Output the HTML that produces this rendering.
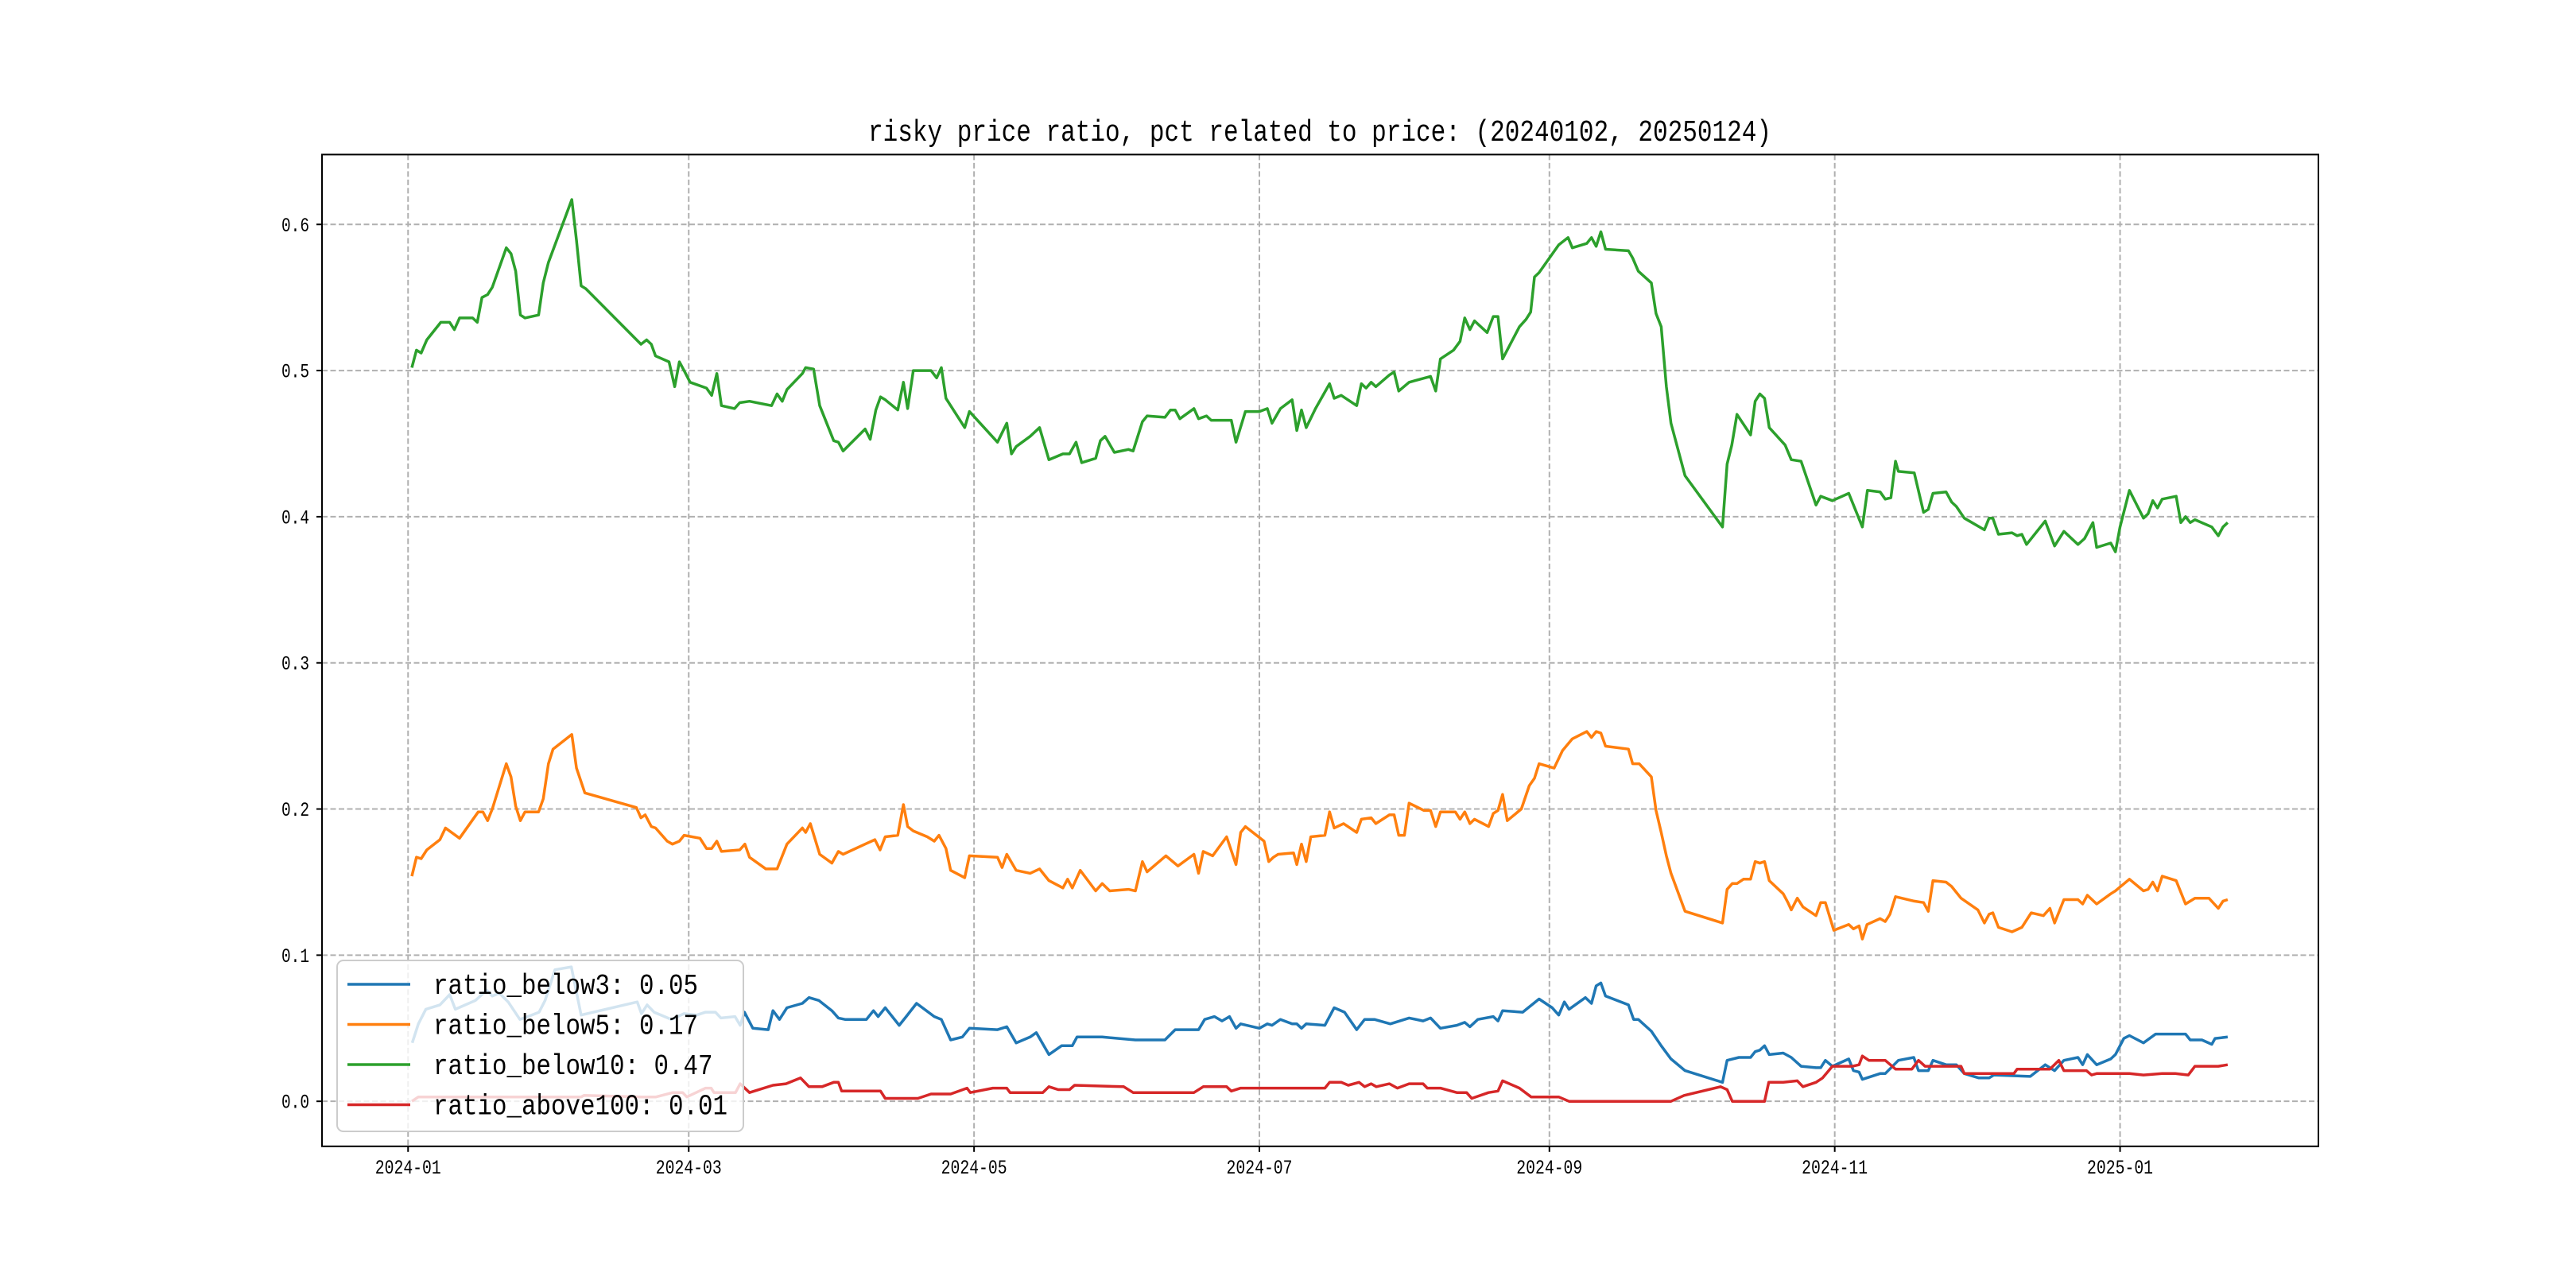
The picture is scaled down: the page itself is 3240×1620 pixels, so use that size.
<!DOCTYPE html>
<html><head><meta charset="utf-8"><style>
html,body{margin:0;padding:0;background:#fff;}
svg{display:block;}
text{font-family:"Liberation Mono","Noto Sans CJK SC",monospace;fill:#000;}
</style></head><body>
<svg id="chart" width="3240" height="1620" viewBox="0 0 3240 1620" xmlns="http://www.w3.org/2000/svg">
<rect x="0" y="0" width="3240" height="1620" fill="#fff"/>
<text x="1660" y="177" font-size="38" text-anchor="middle" textLength="1136" lengthAdjust="spacingAndGlyphs">risky price ratio, pct related to price: (20240102, 20250124)</text>
<g id="grid"></g>
<g id="series"></g>
<rect x="405" y="194.4" width="2511" height="1247.4" fill="none" stroke="#000" stroke-width="2"/>
<g id="ticks"></g>
<g id="legend"></g>
</svg>
<script>
// day offsets from 2024-01-01
const xTickDays = [0, 60, 121, 182, 244, 305, 366];
const xTickLabels = ["2024-01","2024-03","2024-05","2024-07","2024-09","2024-11","2025-01"];
const yTickValues = [0.0, 0.1, 0.2, 0.3, 0.4, 0.5, 0.6];
const yTickLabels = ["0.0","0.1","0.2","0.3","0.4","0.5","0.6"];
const seriesNames = ["ratio_below3","ratio_below5","ratio_below10","ratio_above100"];
const legendValues = ["0.05","0.17","0.47","0.01"];

const greenDays = [0.8,1.8,2.8,4,7,8.9,9.9,11,13.8,14.8,15.8,17,18,21,22,23,24,25,27.9,28.9,30,35,36,37,38,49.8,51,52,52.9,55.8,57,58,59,60.3,63.8,64.9,66,67,69.8,70.9,73,77.7,78.9,80,81,84.3,85,86.7,88,91,92,93,97.7,98.8,100,101,102,104.7,105.9,106.8,108,111.8,113,114,115,119,120,126,128,129,130,133,135,137,140,141.4,142.8,144,147,148,149,151,154,155,157,158,161.8,163,164,165,168,169,170.7,171.7,176,177,179,182,183.7,184.7,186.5,189,190,191,192,194,197,198,199.5,202.8,203.8,204.8,205.9,206.9,209.8,210.8,211.8,214,218.6,219.7,220.7,223.5,224.9,225.9,227,228,230.7,232,233,234,237.6,239,240,240.8,241.8,246,248,248.9,252,253,254,255,256,260.9,261.8,263,265.8,266.8,267.9,269,270,273,281,282,283,284.1,287,288,289,290,291,294.4,295.7,297.8,301,302,304.5,308,310.9,312,314.7,315.8,317,318,318.6,322,324,325,326,328.8,330,331,332.7,337,338,338.8,340,342.9,344,345,346,350,352,354,357,358.4,360.2,361,364,365,366,368,371,372,373,374,375,378,379,380,381,382,385.6,387,388,389];
const greenVals = [.502,.514,.512,.521,.533,.533,.528,.536,.536,.533,.550,.552,.557,.584,.580,.568,.538,.536,.538,.560,.574,.617,.589,.558,.556,.518,.521,.518,.510,.506,.489,.506,.500,.492,.488,.483,.498,.476,.474,.478,.479,.476,.484,.479,.487,.498,.502,.501,.476,.452,.451,.445,.460,.453,.473,.482,.480,.473,.492,.474,.500,.500,.495,.502,.481,.461,.472,.451,.464,.443,.448,.455,.461,.439,.443,.443,.451,.437,.440,.452,.455,.444,.446,.445,.465,.469,.468,.473,.473,.467,.474,.467,.469,.466,.466,.451,.472,.472,.474,.464,.474,.480,.459,.473,.461,.474,.491,.481,.483,.476,.491,.488,.492,.489,.497,.499,.486,.492,.496,.486,.508,.514,.520,.536,.528,.534,.526,.537,.537,.508,.530,.535,.540,.564,.567,.586,.591,.584,.587,.591,.585,.595,.583,.582,.577,.568,.560,.539,.530,.489,.464,.428,.393,.436,.449,.470,.456,.479,.484,.481,.461,.449,.439,.438,.408,.414,.411,.416,.393,.418,.417,.412,.413,.438,.431,.430,.403,.405,.416,.417,.410,.407,.399,.391,.399,.399,.388,.389,.387,.388,.381,.397,.380,.390,.381,.385,.396,.379,.382,.376,.393,.418,.399,.402,.411,.406,.412,.414,.396,.400,.396,.398,.393,.387,.393,.396];

const orangeDays = [0.8,1.8,2.8,4,6.8,8,11,15,16,17,18,21,22,23,24,25,27.9,28.9,30,31,35,36,37.8,48.8,49.8,50.7,52,52.9,55.4,56.5,58,59,62.4,63.8,64.9,66,67,70.9,72,73,76.5,78.9,81,84.3,85,86,88,90.6,92,93,97.7,99.8,100.9,102,104.7,105.9,106.8,108,111,112.5,113.5,115,116,119,120,126,127,128,130,133,135,137,140,141,142,143.7,147,148.4,150,154,155.5,157,158,162,164.6,168,169,170,172,175,177,178,179,183,184,185,186,189.3,190,191,192,193,196,197,198,200,202.8,203.8,205.9,206.9,209.8,210.8,211.8,213,214,217.2,218.6,219.7,220.7,223.9,224.9,225.9,227,228,231,232,233,234,235,238,239.7,240.8,241.8,245,246.8,248.9,252,253,254,255,256,260.9,261.8,263.2,265.8,266.8,267.9,269,270,273,281,282,283.1,284.1,285.5,287,288,289,290,291,294,295,295.7,297,298.2,301,302,303,304.8,308,309,310.2,310.9,311.9,314.7,315.8,316.8,318,322,324,325,326,328.8,330,332,335.6,337,338,338.8,340,342.9,345,347,349.6,351,352,354,357,358,359,361,364,365,368,371,372,373,374,375,378,380,382,385,387,388,389];
const orangeVals = [.154,.167,.166,.172,.179,.187,.180,.198,.198,.192,.200,.231,.222,.202,.192,.198,.198,.207,.231,.241,.251,.228,.211,.201,.194,.196,.188,.187,.178,.176,.178,.182,.180,.173,.173,.178,.171,.172,.176,.167,.159,.159,.176,.187,.184,.190,.169,.163,.171,.169,.176,.179,.172,.181,.182,.203,.188,.185,.181,.178,.182,.173,.158,.153,.168,.167,.160,.169,.158,.156,.159,.151,.146,.152,.146,.158,.144,.149,.144,.145,.144,.164,.157,.168,.161,.169,.156,.171,.168,.181,.162,.184,.188,.178,.164,.167,.169,.170,.162,.176,.164,.181,.182,.198,.187,.190,.184,.193,.194,.190,.196,.196,.182,.182,.204,.199,.199,.188,.198,.198,.193,.198,.190,.193,.188,.197,.199,.210,.192,.200,.216,.221,.231,.228,.240,.248,.253,.249,.253,.252,.243,.241,.231,.231,.222,.199,.184,.168,.156,.130,.122,.145,.149,.149,.152,.152,.164,.163,.164,.151,.142,.136,.131,.139,.133,.127,.136,.136,.117,.121,.118,.120,.111,.121,.125,.123,.128,.140,.137,.136,.130,.151,.150,.147,.139,.131,.122,.128,.129,.119,.116,.119,.129,.127,.132,.122,.138,.138,.135,.141,.135,.142,.144,.152,.144,.145,.150,.144,.154,.151,.135,.139,.139,.132,.137,.138];

const blueDays = [0.9,2.2,3.8,6.8,8.9,10.1,14.4,16.8,18,19.5,21.4,23.9,25.6,28,29.3,31.4,34.9,37,49,49.9,51.1,52.6,56.3,59,61.7,63.6,65.7,66.9,69.9,71,71.9,73.7,77,78,79.4,81,84.3,85.7,87.8,90.6,92,93.4,98,99.5,100.5,102,105,106.5,108.7,112.5,114,116,118.5,120,126,128,130,133,134.3,137,139.7,142,143,148.4,155.5,161.8,164,169,170.3,172.4,174,175.6,177,178,182,183.7,184.7,186.5,189,190,191,192,196,198,200.2,202.8,204.5,206.6,210,214,217,218.6,220.7,224.2,225.9,227,228.7,232,233,234,238.3,241.8,244.6,246,247.2,248.2,251.7,253,254,255,256,260.9,262,263,265.8,267.9,270,273,281,282,284.5,287,288,289,290,291,294,295.7,297.8,301,302,303,304.5,308,309,310.2,310.9,314.7,315.8,318.6,321.9,322.9,325,326,328.8,331,332.7,335.8,338,339,346.8,350,352,354,357,358,359,361,364,365,366.8,368,371,373.6,378,380,381,383.5,385.6,386.3,389];
const blueVals = [.040,.053,.063,.066,.073,.063,.069,.076,.072,.074,.068,.056,.058,.061,.069,.090,.092,.059,.068,.060,.066,.061,.056,.060,.059,.061,.061,.057,.058,.052,.061,.050,.049,.062,.056,.064,.067,.071,.069,.062,.057,.056,.056,.062,.058,.064,.052,.058,.067,.058,.056,.042,.044,.050,.049,.051,.040,.044,.047,.032,.038,.038,.044,.044,.042,.042,.049,.049,.056,.058,.055,.058,.050,.053,.050,.053,.052,.056,.053,.053,.050,.053,.052,.064,.061,.049,.056,.056,.053,.057,.055,.057,.050,.052,.054,.051,.056,.058,.055,.062,.061,.070,.064,.059,.068,.063,.071,.067,.079,.081,.072,.066,.056,.056,.048,.038,.029,.021,.013,.028,.030,.030,.034,.035,.038,.032,.033,.030,.024,.023,.023,.028,.024,.029,.021,.020,.015,.019,.019,.028,.030,.021,.021,.028,.025,.025,.019,.016,.016,.018,.017,.025,.021,.028,.030,.025,.032,.025,.029,.032,.043,.045,.040,.046,.046,.046,.042,.042,.039,.043,.044];

const redDays = [0.8,2.2,37,37.6,49.9,53,56.6,58.7,59.6,63.6,64.8,65.4,70,71,73,78,80.8,83.9,85.7,88.5,91,92,92.7,101,102,109,111.8,116,119.5,120.2,125,128,128.7,135.7,137,139,141.4,142.5,153,155,168,170,175,176,178,196,197,199.5,201,203.3,204.5,205.9,207,209.8,211.5,214,217,217.9,220.7,224.2,226.3,227.4,231,233,234,237.6,240.1,246,248.2,270,272.8,280.6,282,283.1,290,290.9,294,297,298.2,301,302.4,304.5,308.8,310.2,310.9,312.3,315.8,318,321.5,322.9,324.3,332,332.7,343.3,344,351,352.9,354,358.8,359.9,361,368,371,375,377.8,380.6,382,387,389];
const redVals = [.000,.003,.003,.004,.003,.003,.006,.006,.003,.009,.009,.006,.006,.012,.006,.011,.012,.016,.010,.010,.013,.013,.007,.007,.002,.002,.005,.005,.009,.006,.009,.009,.006,.006,.010,.008,.008,.011,.010,.006,.006,.010,.010,.007,.009,.009,.013,.013,.011,.013,.010,.012,.010,.012,.009,.012,.012,.009,.009,.006,.006,.002,.006,.007,.014,.009,.003,.003,.000,.000,.004,.010,.008,.000,.000,.013,.013,.014,.010,.013,.016,.024,.024,.025,.031,.028,.028,.022,.022,.028,.024,.024,.019,.019,.022,.022,.028,.021,.021,.018,.019,.019,.018,.019,.019,.018,.024,.024,.025];

const NS = "http://www.w3.org/2000/svg";
const AX = {left:405, top:194.4, width:2511, height:1247.4};
const dayMin = 1 - 19.4, dayMax = 389 + 19.4;
const yMin = -0.0308, yMax = 0.6478;
function xScale(d){ return AX.left + (d - dayMin) / (dayMax - dayMin) * AX.width; }
function yScale(v){ return AX.top + AX.height - (v - yMin) / (yMax - yMin) * AX.height; }
function mk(tag, attrs, parent){ const e = document.createElementNS(NS, tag); for (const k in attrs) e.setAttribute(k, attrs[k]); parent.appendChild(e); return e; }

const grid = document.getElementById('grid');
const ticks = document.getElementById('ticks');
xTickDays.forEach((d, i) => {
  const x = xScale(d);
  const gl = mk('line', {x1:x, x2:x, y1:AX.top, y2:AX.top+AX.height, stroke:'#b0b0b0', 'stroke-width':2, 'stroke-dasharray':'7,3.5'}, grid);
  
  
  const tk = mk('line', {x1:x, x2:x, y1:AX.top+AX.height, y2:AX.top+AX.height+7, stroke:'#000', 'stroke-width':2}, ticks);
  
  
  const t = mk('text', {x:x, y:1476, 'font-size':25, 'text-anchor':'middle', textLength:83, lengthAdjust:'spacingAndGlyphs'}, ticks);
  t.textContent = xTickLabels[i];
  
  
});
yTickValues.forEach((v, i) => {
  const y = yScale(v);
  const gl = mk('line', {x1:AX.left, x2:AX.left+AX.width, y1:y, y2:y, stroke:'#b0b0b0', 'stroke-width':2, 'stroke-dasharray':'7,3.5'}, grid);
  
  
  const tk = mk('line', {x1:AX.left-7, x2:AX.left, y1:y, y2:y, stroke:'#000', 'stroke-width':2}, ticks);
  
  
  const t = mk('text', {x:389, y:y+8.5, 'font-size':25, 'text-anchor':'end', textLength:35, lengthAdjust:'spacingAndGlyphs'}, ticks);
  t.textContent = yTickLabels[i];
  
  
});

const colors = ['#1f77b4','#ff7f0e','#2ca02c','#d62728'];
const seriesDays = [blueDays, orangeDays, greenDays, redDays];
const seriesVals = [blueVals, orangeVals, greenVals, redVals];
const sg = document.getElementById('series');
seriesDays.forEach((days, s) => {
  const vals = seriesVals[s];
  let dstr = '';
  days.forEach((d, i) => { dstr += (i ? 'L' : 'M') + xScale(d).toFixed(1) + ',' + yScale(vals[i]).toFixed(1); });
  const p = mk('path', {d:dstr, fill:'none', stroke:colors[s], 'stroke-width':3.5, 'stroke-linejoin':'round'}, sg);
  
  
});

const lg = document.getElementById('legend');
const box = mk('rect', {x:424, y:1208, width:511, height:215, rx:8, fill:'#fff', 'fill-opacity':0.8, stroke:'#cccccc', 'stroke-width':2}, lg);


seriesNames.forEach((n, i) => {
  const ly = 1238 + i * 50.5;
  const l = mk('line', {x1:437, x2:516, y1:ly, y2:ly, stroke:colors[i], 'stroke-width':3.5}, lg);
  
  
  const label = n + ': ' + legendValues[i];
  const t = mk('text', {x:545, y:ly + 12, 'font-size':36, textLength:(label.length * 18.5).toFixed(1), lengthAdjust:'spacingAndGlyphs'}, lg);
  t.textContent = label;
  
  
});
</script>
</body></html>
